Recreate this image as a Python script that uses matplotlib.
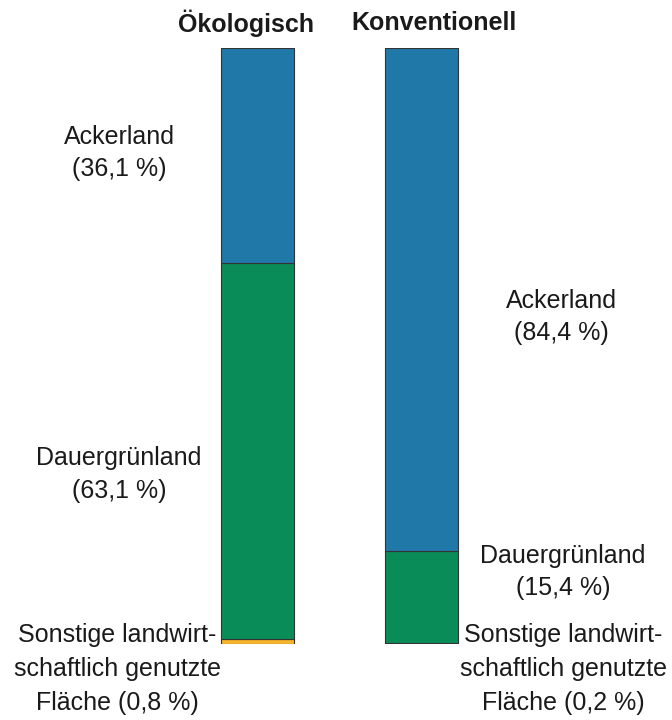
import matplotlib.pyplot as plt

plt.rcParams['font.family'] = ['Liberation Sans', 'DejaVu Sans']

# data
groups = ['Ökologisch', 'Konventionell']
categories = ['Sonstige landwirt-\nschaftlich genutzte\nFläche', 'Dauergrünland', 'Ackerland']
values_oeko = [0.8, 63.1, 36.1]
values_konv = [0.2, 15.4, 84.4]
colors = ['#f6b52c', '#0a8c58', '#1f78a8']

fig = plt.figure(figsize=(6.72, 7.2), dpi=100)
ax = fig.add_axes([0, 76 / 720, 1, 596 / 720])
ax.set_xlim(0, 672)
ax.set_ylim(0, 100)
ax.axis('off')

bar_x = [257.5, 421.5]
bar_w = 73

# stacked bars, bottom-up
for xpos, vals in zip(bar_x, [values_oeko, values_konv]):
    bottom = 0
    for v, c in zip(vals, colors):
        ax.bar(xpos, v, bottom=bottom, width=bar_w, color=c,
               edgecolor='#333333', linewidth=0.8)
        bottom += v

# titles
title_x = [246, 434]
for tx, g in zip(title_x, groups):
    fig.text(tx / 672, 1 - 23 / 720, g, ha='center', va='center',
             fontsize=18, fontweight='bold', color='#1a1a1a')

def fmt(v):
    return f'{v:.1f}'.replace('.', ',') + ' %'

fs = 18
col = '#1a1a1a'
ls = 1.45
ls3 = 1.55

# labels left
ax.text(119, 82.4, f'{categories[2]}\n({fmt(values_oeko[2])})',
        ha='center', va='center', fontsize=fs, color=col, linespacing=ls)
ax.text(119, 28.4, f'{categories[1]}\n({fmt(values_oeko[1])})',
        ha='center', va='center', fontsize=fs, color=col, linespacing=ls)
ax.text(117, -4.2, f'{categories[0]} ({fmt(values_oeko[0])})',
        ha='center', va='center', fontsize=fs, color=col, linespacing=ls3)

# labels right
ax.text(561, 54.9, f'{categories[2]}\n({fmt(values_konv[2])})',
        ha='center', va='center', fontsize=fs, color=col, linespacing=ls)
ax.text(563, 12.1, f'{categories[1]}\n({fmt(values_konv[1])})',
        ha='center', va='center', fontsize=fs, color=col, linespacing=ls)
ax.text(563, -4.2, f'{categories[0]} ({fmt(values_konv[0])})',
        ha='center', va='center', fontsize=fs, color=col, linespacing=ls3)

fig.savefig('out.png', dpi=100)
